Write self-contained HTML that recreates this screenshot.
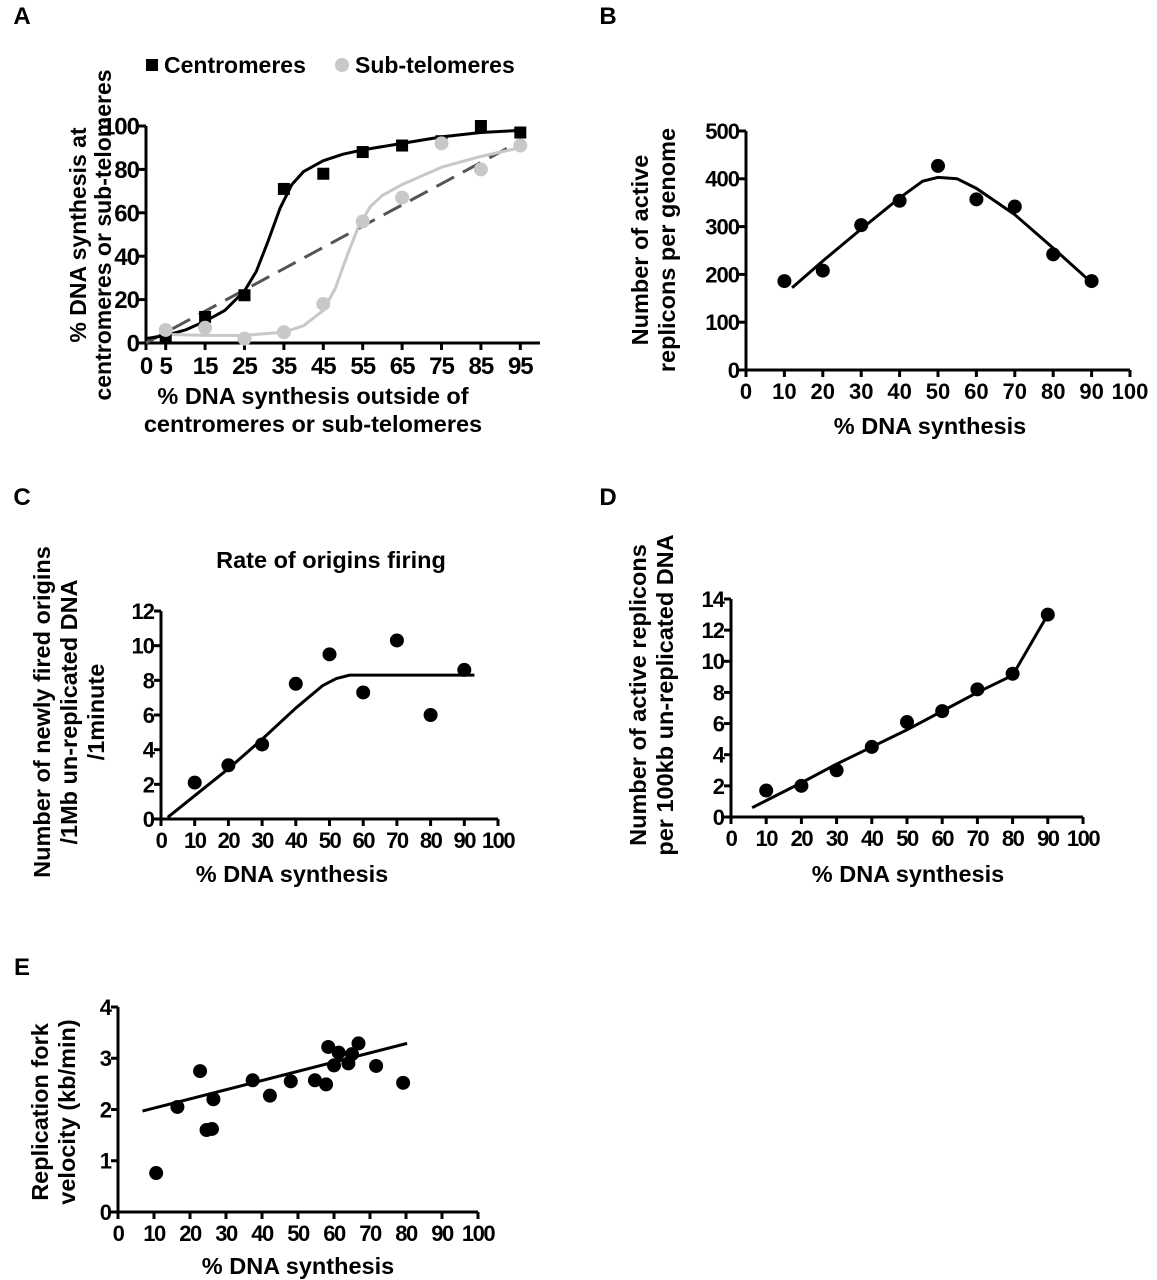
<!DOCTYPE html>
<html><head><meta charset="utf-8"><style>
body{margin:0;background:#fff;}
svg{display:block;font-family:"Liberation Sans",Arial,sans-serif;}
text{fill:#000;font-weight:bold;}
</style></head><body>
<svg id="fig" width="1157" height="1280" viewBox="0 0 1157 1280"></svg>
<script>
// ---- Panel A data ----
const aX = [5,15,25,35,45,55,65,75,85,95];
const aCentro = [3,12,22,71,78,88,91,93,100,97];
const aSubtel = [6,7,2,5,18,56,67,92,80,91];
const aCentroFitX = [0,5,10,15,20,25,28,31,34,37,40,45,50,55,65,75,85,95];
const aCentroFitY = [2,3.5,6,10,15,24,33,47,62,73,79,84,87,89,92,95,97,98];
const aSubFitX = [5,15,25,35,40,45,48,51,54,57,60,65,75,85,95];
const aSubFitY = [4,3.5,3.5,5,8,15,25,40,54,63,68,73,81,86,90];
const aDashX = [0,95];
const aDashY = [0,93];
const aXTicks = [0,5,15,25,35,45,55,65,75,85,95];
const aYTicks = [0,20,40,60,80,100];
// ---- Panel B data ----
const bX = [10,20,30,40,50,60,70,80,90];
const bY = [186,208,303,354,427,357,342,242,186];
const bFitX = [12,20,30,40,46,50,55,60,70,80,89];
const bFitY = [172,228,295,360,395,403,400,380,325,255,190];
const bXTicks = [0,10,20,30,40,50,60,70,80,90,100];
const bYTicks = [0,100,200,300,400,500];
// ---- Panel C data ----
const cX = [10,20,30,40,50,60,70,80,90];
const cY = [2.1,3.1,4.3,7.8,9.5,7.3,10.3,6.0,8.6];
const cFitX = [2,20,30,40,48,52,56,60,70,93];
const cFitY = [0.1,2.9,4.6,6.4,7.7,8.1,8.3,8.3,8.3,8.3];
const cXTicks = [0,10,20,30,40,50,60,70,80,90,100];
const cYTicks = [0,2,4,6,8,10,12];
// ---- Panel D data ----
const dX = [10,20,30,40,50,60,70,80,90];
const dY = [1.7,2.0,3.0,4.5,6.1,6.8,8.2,9.2,13.0];
const dFitX = [6,20,30,40,50,60,70,80,90];
const dFitY = [0.6,2.2,3.4,4.5,5.6,6.8,8.0,9.1,13.0];
const dXTicks = [0,10,20,30,40,50,60,70,80,90,100];
const dYTicks = [0,2,4,6,8,10,12,14];
// ---- Panel E data ----
const eX = [10.6,16.5,22.8,24.6,26.1,26.5,37.4,42.2,48,54.7,57.8,58.4,60,61.3,64,65,66.8,71.7,79.2];
const eY = [0.76,2.05,2.75,1.6,1.62,2.2,2.57,2.27,2.55,2.57,2.49,3.22,2.86,3.11,2.9,3.08,3.29,2.85,2.52];
const eFitX = [6.8,80.3];
const eFitY = [1.97,3.29];
const eXTicks = [0,10,20,30,40,50,60,70,80,90,100];
const eYTicks = [0,1,2,3,4];

const NS="http://www.w3.org/2000/svg";
const svg=document.getElementById('fig');
function mk(tag,attrs,parent){const e=document.createElementNS(NS,tag);for(const k in attrs)e.setAttribute(k,attrs[k]);(parent||svg).appendChild(e);return e;}
function txt(s,x,y,size,anchor,parent,extra){const t=mk('text',Object.assign({x:x,y:y,'font-size':size,'text-anchor':anchor||'middle'},extra||{}),parent);t.textContent=s;return t;}

function axes(g,o){
  const sx=v=>o.x0+(v-o.xmin)*(o.x1-o.x0)/(o.xmax-o.xmin);
  const sy=v=>o.y0+(v-o.ymin)*(o.y1-o.y0)/(o.ymax-o.ymin);
  const yl=mk('line',{x1:o.x0,y1:o.y0+1.5,x2:o.x0,y2:o.y1,stroke:'#000','stroke-width':3},g);
  
  
  const xl=mk('line',{x1:o.x0-1.5,y1:o.y0,x2:o.x1,y2:o.y0,stroke:'#000','stroke-width':3},g);
  
  
  o.yTicks.forEach(v=>{
    mk('line',{x1:o.x0-7,y1:sy(v),x2:o.x0,y2:sy(v),stroke:'#000','stroke-width':3},g);
    const t=txt(String(v),o.x0-7,sy(v)+o.fs*0.36,o.fs,'end',g,{'letter-spacing':'-1'});
    
    
  });
  o.xTicks.forEach(v=>{
    mk('line',{x1:sx(v),y1:o.y0,x2:sx(v),y2:o.y0+7,stroke:'#000','stroke-width':3},g);
    const t=txt(String(v),sx(v),o.y0+o.fs+7,o.fs,'middle',g,o.xTickSpacing?{'letter-spacing':o.xTickSpacing}:{});
    
    
  });
  return {sx,sy};
}
function line(g,xs,ys,s,color,w,dash,name){
  const p=xs.map((x,i)=>s.sx(x)+','+s.sy(ys[i])).join(' ');
  const el=mk('polyline',{points:p,fill:'none',stroke:color,'stroke-width':w,'stroke-linejoin':'round'},g);
  if(dash)el.setAttribute('stroke-dasharray',dash);
  
  
}
function dots(g,xs,ys,s,color,r,name){
  xs.forEach((x,i)=>{
    const c=mk('circle',{cx:s.sx(x),cy:s.sy(ys[i]),r:r,fill:color},g);
    
    
  });
}
function squares(g,xs,ys,s,color,h,name){
  xs.forEach((x,i)=>{
    const c=mk('rect',{x:s.sx(x)-h,y:s.sy(ys[i])-h,width:2*h,height:2*h,fill:color},g);
    
    
  });
}
function panel(name){const g=mk('g',{});return g;}
function label(g,s,x,y,name,size,extra){const t=txt(s,x,y,size||23.5,'middle',g,extra);return t;}
function rot(g,lines,xs,cy,name,size){lines.forEach((s,i)=>{const t=txt(s,xs[i],cy,size||23.5,'middle',g,{transform:`rotate(-90 ${xs[i]} ${cy})`});});}

// Panel A
let g=panel('panel-a');
label(g,'A',22,24,'panel-letter-a',24);
let s=axes(g,{x0:146,x1:540,xmin:0,xmax:100,y0:343,y1:126,ymin:0,ymax:100,xTicks:aXTicks,yTicks:aYTicks,fs:24,xTickSpacing:'-1'});
line(g,aDashX,aDashY,s,'#555',3,'20,10','diagonal-dashed-line');
line(g,aCentroFitX,aCentroFitY,s,'#000',3,null,'centromeres-fit-curve');
line(g,aSubFitX,aSubFitY,s,'#c8c8c8',3,null,'subtelomeres-fit-curve');
squares(g,aX,aCentro,s,'#000',6,'centromeres-point');
dots(g,aX,aSubtel,s,'#c8c8c8',7,'subtelomeres-point');
let lg=mk('g',{},g);
mk('rect',{x:146,y:59,width:12,height:12,fill:'#000'},lg);
txt('Centromeres',164,73,23,'start',lg);
mk('circle',{cx:342,cy:65,r:7,fill:'#c8c8c8'},lg);
txt('Sub-telomeres',355,73,23,'start',lg);
rot(g,['% DNA synthesis at','centromeres or sub-telomeres'],[86,111],235,'y-axis-title',23);
label(g,'% DNA synthesis outside of',313,404,'x-axis-title');
label(g,'centromeres or sub-telomeres',313,432,'x-axis-title');

// Panel B
g=panel('panel-b');
label(g,'B',608,24,'panel-letter-b',24);
s=axes(g,{x0:746,x1:1130,xmin:0,xmax:100,y0:370,y1:131,ymin:0,ymax:500,xTicks:bXTicks,yTicks:bYTicks,fs:22});
line(g,bFitX,bFitY,s,'#000',3,null,'fit-curve');
dots(g,bX,bY,s,'#000',7,'data-point');
rot(g,['Number of active','replicons per genome'],[648,675],250,'y-axis-title');
label(g,'% DNA synthesis',930,434,'x-axis-title');

// Panel C
g=panel('panel-c');
label(g,'C',22,505,'panel-letter-c',24);
s=axes(g,{x0:161,x1:498,xmin:0,xmax:100,y0:819,y1:611,ymin:0,ymax:12,xTicks:cXTicks,yTicks:cYTicks,fs:22,xTickSpacing:'-1.5'});
line(g,cFitX,cFitY,s,'#000',3,null,'fit-curve');
dots(g,cX,cY,s,'#000',7,'data-point');
label(g,'Rate of origins firing',331,568,'chart-title');
rot(g,['Number of newly fired origins','/1Mb un-replicated DNA','/1minute'],[50,77,104],712,'y-axis-title');
label(g,'% DNA synthesis',292,882,'x-axis-title');

// Panel D
g=panel('panel-d');
label(g,'D',608,505,'panel-letter-d',24);
s=axes(g,{x0:731,x1:1083,xmin:0,xmax:100,y0:817,y1:599,ymin:0,ymax:14,xTicks:dXTicks,yTicks:dYTicks,fs:22,xTickSpacing:'-1.5'});
line(g,dFitX,dFitY,s,'#000',3,null,'fit-curve');
dots(g,dX,dY,s,'#000',7,'data-point');
rot(g,['Number of active replicons','per 100kb un-replicated DNA'],[646,673],695,'y-axis-title');
label(g,'% DNA synthesis',908,882,'x-axis-title');

// Panel E
g=panel('panel-e');
label(g,'E',22,975,'panel-letter-e',24);
s=axes(g,{x0:118,x1:478,xmin:0,xmax:100,y0:1212,y1:1007,ymin:0,ymax:4,xTicks:eXTicks,yTicks:eYTicks,fs:22,xTickSpacing:'-1.5'});
line(g,eFitX,eFitY,s,'#000',3,null,'regression-line');
dots(g,eX,eY,s,'#000',7,'data-point');
rot(g,['Replication fork','velocity (kb/min)'],[48,75],1112,'y-axis-title');
label(g,'% DNA synthesis',298,1274,'x-axis-title');
</script>
</body></html>
